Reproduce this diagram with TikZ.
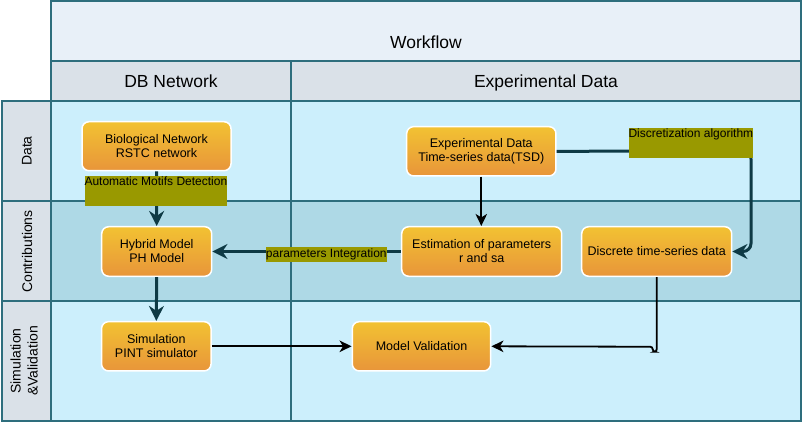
\documentclass[tikz,border=0pt]{standalone}
\usepackage{fontspec}
\setmainfont{Liberation Sans}
\usetikzlibrary{arrows.meta}
\definecolor{gridline}{HTML}{2E6E7D}
\definecolor{titlefill}{HTML}{E8F0F8}
\definecolor{headfill}{HTML}{DAE1E8}
\definecolor{cellA}{HTML}{CCEFFC}
\definecolor{cellB}{HTML}{AED9E6}
\definecolor{boxtop}{HTML}{F2C232}
\definecolor{boxbot}{HTML}{E8953A}
\definecolor{darkarrow}{HTML}{0E3A45}
\definecolor{olivetag}{HTML}{999900}
\begin{document}
\begin{tikzpicture}[x=1pt,y=-1pt,
  cell/.style={draw=gridline,line width=2pt},
  proc/.style={rounded corners=7pt, draw=white, line width=1.5pt, top color=boxtop, bottom color=boxbot, align=center, font=\fontsize{12.5}{14}\selectfont, inner sep=0pt},
  tag/.style={fill=olivetag, inner sep=0pt, font=\fontsize{12}{14}\selectfont, text height=9.7pt, text depth=20.3pt, anchor=north},
  tagthin/.style={fill=olivetag, inner sep=0pt, font=\fontsize{12}{14}\selectfont, text height=10.3pt, text depth=4.4pt},
  heavy/.style={draw=darkarrow, line width=3pt, -{Stealth[length=15pt,width=15pt,inset=5pt]}},
  light/.style={draw=black, line width=1.8pt, -{Stealth[length=12pt,width=11.5pt,inset=3.5pt]}},
  headtxt/.style={font=\fontsize{17.5}{21}\selectfont, anchor=base},
  rowtxt/.style={font=\fontsize{14}{17}\selectfont, rotate=90, align=center}
]
\useasboundingbox (0,0) rectangle (803,425);
% grid
\filldraw[cell, fill=titlefill] (51,1.5) rectangle (801,61);
\filldraw[cell, fill=headfill] (51,61) rectangle (291,101);
\filldraw[cell, fill=headfill] (291,61) rectangle (801,101);
\filldraw[cell, fill=headfill] (1.5,101) rectangle (51,201);
\filldraw[cell, fill=headfill] (1.5,201) rectangle (51,301);
\filldraw[cell, fill=headfill] (1.5,301) rectangle (51,421);
\filldraw[cell, fill=cellA] (51,101) rectangle (291,201);
\filldraw[cell, fill=cellA] (291,101) rectangle (801,201);
\filldraw[cell, fill=cellB] (51,201) rectangle (291,301);
\filldraw[cell, fill=cellB] (291,201) rectangle (801,301);
\filldraw[cell, fill=cellA] (51,301) rectangle (291,421);
\filldraw[cell, fill=cellA] (291,301) rectangle (801,421);
% headers
\node[headtxt] (hwf) at (426,48.3) {Workflow};
\node[headtxt] (hdb) at (171,87.7) {DB Network};
\node[headtxt] (hexp) at (546,87.7) {Experimental Data};
\node[rowtxt] (rdata) at (27,151) {Data};
\node[rowtxt] (rcon) at (27,251.5) {Contributions};
\node[rowtxt] (rsim) at (24,361) {Simulation\\\&Validation};
% process boxes
\node[proc, minimum width=149pt, minimum height=49pt] (bio) at (156.5,146.2) {Biological Network\\RSTC network};
\node[proc, minimum width=110pt, minimum height=49.6pt] (hyb) at (156.7,251.5) {Hybrid Model\\PH Model};
\node[proc, minimum width=109.5pt, minimum height=49.3pt] (sim) at (156.3,346.3) {Simulation\\PINT simulator};
\node[proc, minimum width=138.4pt, minimum height=49.3pt] (mv) at (421.5,346.3) {Model Validation};
\node[proc, minimum width=149.3pt, minimum height=49.3pt] (exp) at (481.3,151.3) {Experimental Data\\Time-series data(TSD)};
\node[proc, minimum width=160pt, minimum height=49.6pt] (est) at (481.7,251.5) {Estimation of parameters\\r and sa};
\node[proc, minimum width=150pt, minimum height=49.6pt] (disc) at (656.7,251.5) {Discrete time-series data};
% connectors
\coordinate (dcorner) at (751,151);
\draw[heavy] (bio.south) -- (hyb.north);
\draw[heavy] (hyb.south) -- (sim.north);
\draw[heavy] (est.west) -- (hyb.east);
\draw[heavy, rounded corners=8pt] (exp.east) -- (dcorner) |- (disc.east);
\draw[light] (exp.south) -- (exp.south |- est.north);
\draw[light] (sim.east) -- (mv.west);
\draw[light, rounded corners=2.5pt] (disc.south) -- ++(0,74.7) -- ++(-4,0) -- ++(0,-5) -- (mv.east);
% labels
\node[tag] (tmotif) at (155.9,176) {Automatic Motifs Detection};
\node[tag] (tdisc) at (690.9,128) {Discretization algorithm};
\node[tagthin] (tparam) at (326.3,254.3) {parameters Integration};
\end{tikzpicture}
\end{document}
